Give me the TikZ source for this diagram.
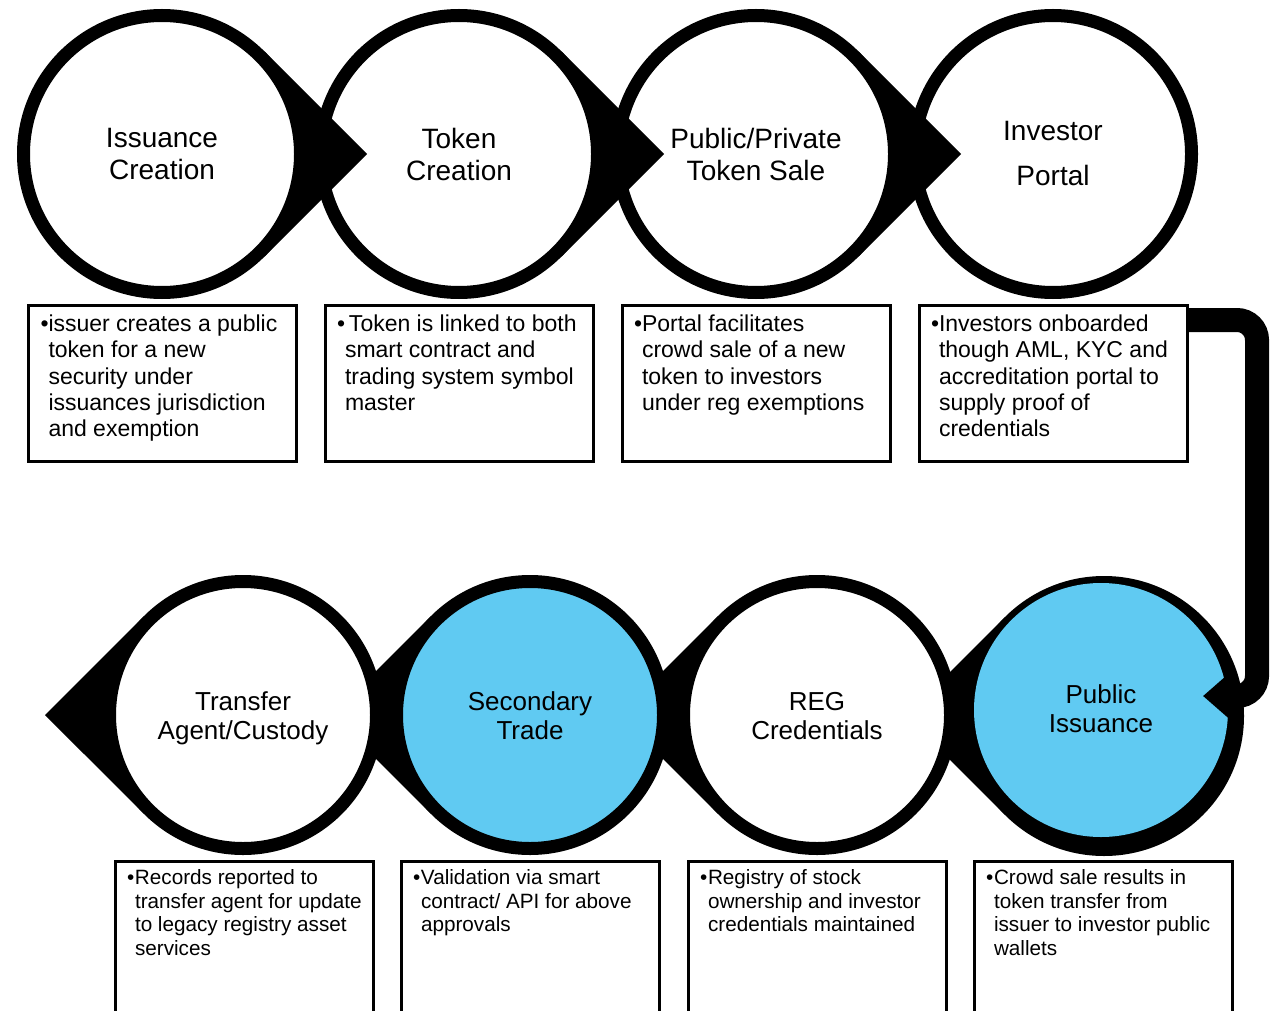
\documentclass[tikz,border=0pt]{standalone}
\usepackage{fontspec}
\setmainfont{Liberation Sans}
\usepackage{tikz}
\usetikzlibrary{math}
\usetikzlibrary{calc}
\usetikzlibrary{arrows.meta}
\usetikzlibrary{positioning}

\definecolor{tradeblue}{RGB}{96,202,242}

% bullet text of a box: #1 height, #2 width, #3 lines
\newcommand{\notetext}[3]{%
  \makebox[#2][l]{\parbox[t][#1][t]{\dimexpr #2+30pt\relax}{%
      \leavevmode\hangindent=8pt\hangafter=1\strut\makebox[8pt][l]{\textbullet}#3}}}

\tikzset{
  ringline/.style={line width=13pt, draw=black},
  stagename/.style={align=center, text depth=0pt},
  stageup/.style={stagename, font=\fontsize{28}{32}\selectfont},
  stagelow/.style={stagename, font=\fontsize{26}{29}\selectfont},
  notebox/.style={draw, line width=3pt, anchor=north},
  noteup/.style={notebox, inner xsep=12pt, inner ysep=8pt, font=\fontsize{23}{26.3}\selectfont},
  notelow/.style={notebox, inner xsep=11.5pt, inner ysep=7pt, font=\fontsize{20.7}{23.6}\selectfont},
  flowline/.style={line width=24pt, rounded corners=20pt, -{Triangle[length=28pt,width=47pt]}},
}

\begin{document}
\begin{tikzpicture}[x=1pt,y=-1pt]

  \tikzmath{
    \rup   = 138.5;            % ring radius, upper row (middle of the line)
    \rlow  = 133.5;            % ring radius, lower row
    \ringw = 13;               % ring thickness
    \Rup   = \rup + \ringw/2;  % outer radius, upper row
    \Rlow  = \rlow + \ringw/2; % outer radius, lower row
    \dup   = 205;              % centre to tip, upper row
    \dlow  = 198;              % centre to tip, lower row
    \aup   = acos(\Rup/\dup);  % angle of the tangent points
    \alow  = acos(\Rlow/\dlow);
  }

  \useasboundingbox (0,0) rectangle (1271,1011);

  % centres of the circles
  \coordinate (C1) at (162,154);
  \coordinate (C2) at (459,154);
  \coordinate (C3) at (756,154);
  \coordinate (C4) at (1053,154);
  \coordinate (D1) at (243,715);
  \coordinate (D2) at (530,715);
  \coordinate (D3) at (817,715);
  \coordinate (D4) at (1104,716);
  \coordinate (B4) at (1101,710); % blue disc of the last stage

  % upper row, drawn from the right so that every tip lies on top
  \draw[ringline, fill=white] (C4) circle[radius=\rup];

  \fill (C3) -- ($(C3)+(\aup:\Rup)$) -- ($(C3)+(\dup,0)$) -- ($(C3)+(-\aup:\Rup)$) -- cycle;
  \draw[ringline, fill=white] (C3) circle[radius=\rup];

  \fill (C2) -- ($(C2)+(\aup:\Rup)$) -- ($(C2)+(\dup,0)$) -- ($(C2)+(-\aup:\Rup)$) -- cycle;
  \draw[ringline, fill=white] (C2) circle[radius=\rup];

  \fill (C1) -- ($(C1)+(\aup:\Rup)$) -- ($(C1)+(\dup,0)$) -- ($(C1)+(-\aup:\Rup)$) -- cycle;
  \draw[ringline, fill=white] (C1) circle[radius=\rup];

  % lower row, tips point to the left
  \fill (D4) circle[radius=\Rlow];
  \fill (D4) -- ($(D4)+(180-\alow:\Rlow)$) -- ($(D4)+(-\dlow,0)$) -- ($(D4)+(180+\alow:\Rlow)$) -- cycle;
  \fill[tradeblue] (B4) circle[radius=127];

  \fill (D3) -- ($(D3)+(180-\alow:\Rlow)$) -- ($(D3)+(-\dlow,0)$) -- ($(D3)+(180+\alow:\Rlow)$) -- cycle;
  \draw[ringline, fill=white] (D3) circle[radius=\rlow];

  \fill (D2) -- ($(D2)+(180-\alow:\Rlow)$) -- ($(D2)+(-\dlow,0)$) -- ($(D2)+(180+\alow:\Rlow)$) -- cycle;
  \draw[ringline, fill=tradeblue] (D2) circle[radius=\rlow];

  \fill (D1) -- ($(D1)+(180-\alow:\Rlow)$) -- ($(D1)+(-\dlow,0)$) -- ($(D1)+(180+\alow:\Rlow)$) -- cycle;
  \draw[ringline, fill=white] (D1) circle[radius=\rlow];

  % stage names
  \node[stageup] (issue) at (C1) {Issuance\\Creation};
  \node[stageup] (token) at (C2) {Token\\Creation};
  \node[stageup] (sale) at (C3) {Public/Private\\Token Sale};
  \node[stageup, yshift=1pt] (portal) at (C4) {Investor\\[13pt]Portal};
  \node[stagelow, yshift=-1pt] (agent) at (D1) {Transfer\\Agent/Custody};
  \node[stagelow, yshift=-1pt] (trade) at (D2) {Secondary\\Trade};
  \node[stagelow, yshift=-1pt] (creds) at (D3) {REG\\Credentials};
  \node[stagelow, yshift=1pt] (public) at (B4) {Public\\Issuance};

  % boxes, upper row
  \node[noteup] (n1) at (162.5,303.5) {\notetext{140pt}{244pt}{issuer creates a public\\token for a new\\security under\\issuances jurisdiction\\and exemption}};
  \node[noteup] (n2) at (459,303.5) {\notetext{140pt}{244pt}{\hspace{4pt}Token is linked to both\\smart contract and\\trading system symbol\\master}};
  \node[noteup] (n3) at (756,303.5) {\notetext{140pt}{244pt}{Portal facilitates\\crowd sale of a new\\token to investors\\under reg exemptions}};
  \node[noteup] (n4) at (1053,303.5) {\notetext{140pt}{244pt}{Investors onboarded\\though AML, KYC and\\accreditation portal to\\supply proof of\\credentials}};

  % boxes, lower row (cut by the page)
  \node[notelow] (m1) at (244.5,859.5) {\notetext{150pt}{235pt}{Records reported to\\transfer agent for update\\to legacy registry asset\\services}};
  \node[notelow] (m2) at (530.5,859.5) {\notetext{150pt}{235pt}{Validation via smart\\contract/ API for above\\approvals}};
  \node[notelow] (m3) at (817.5,859.5) {\notetext{150pt}{235pt}{Registry of stock\\ownership and investor\\credentials maintained}};
  \node[notelow] (m4) at (1103.5,859.5) {\notetext{150pt}{235pt}{Crowd sale results in\\token transfer from\\issuer to investor public\\wallets}};

  % turn from the upper row to the lower row
  \coordinate (bend) at (1257,696);
  \coordinate (pin) at (1203,696);
  \draw[flowline] ([yshift=-16.5pt]n4.north east) -| (bend) -- (pin);

\end{tikzpicture}
\end{document}
